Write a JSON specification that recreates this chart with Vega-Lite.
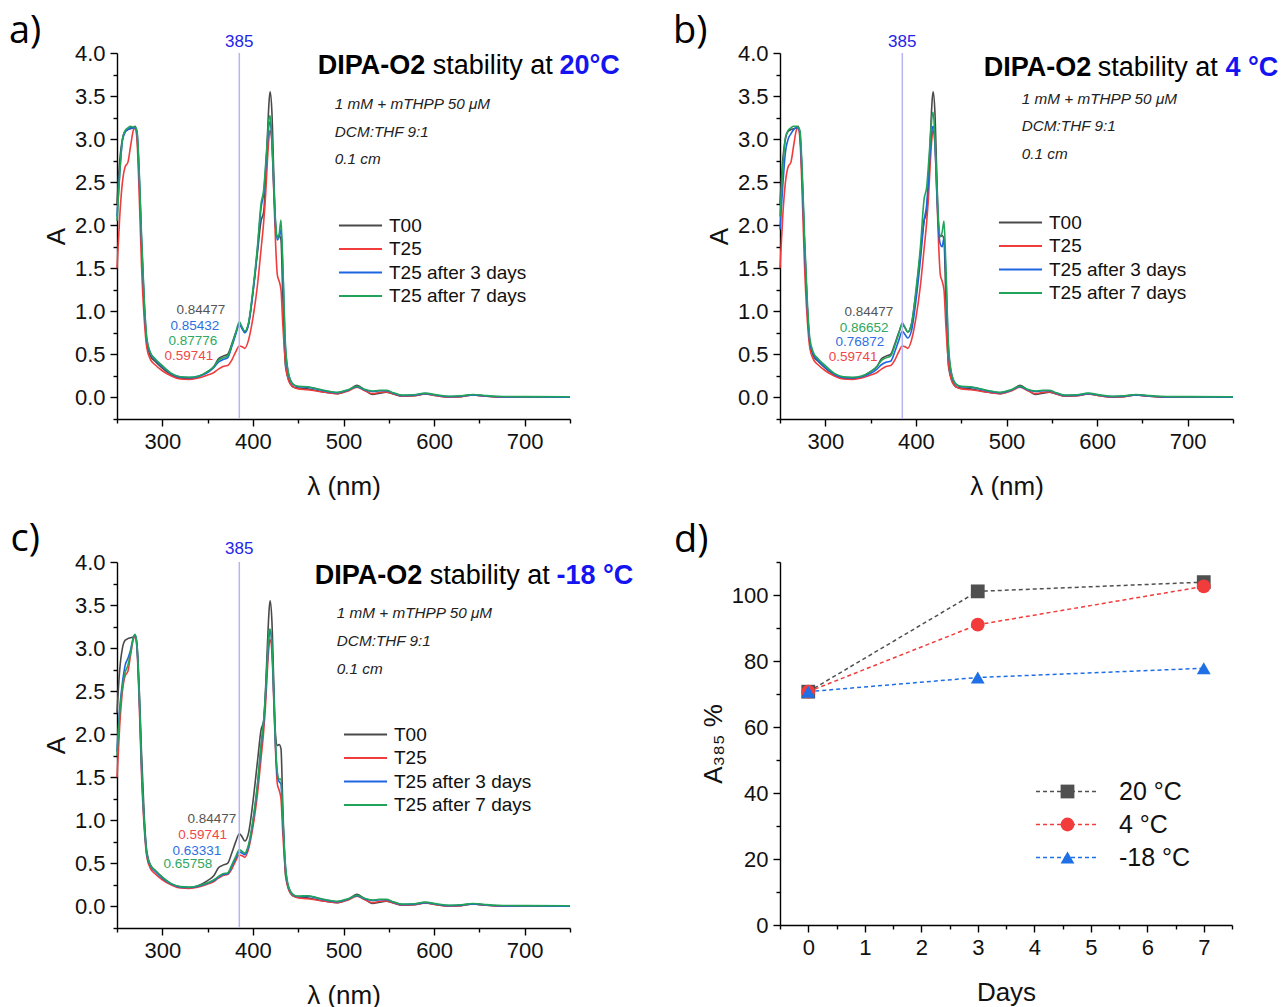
{
"$schema":"https://vega.github.io/schema/vega-lite/v6.json",
"background":"white",
"padding":{"left":8,"top":13,"right":0,"bottom":0},
"autosize":{"type":"pad"},
"bounds":"flush",
"columns":2,
"spacing":{"row":143,"column":210},
"resolve":{"scale":{"color":"independent","stroke":"independent","fill":"independent","shape":"independent"},"legend":{"color":"independent","stroke":"independent","fill":"independent","shape":"independent"}},
"config":{
 "font":"Liberation Sans",
 "view":{"stroke":null},
 "axis":{"grid":false,"domainColor":"#000","domainWidth":1.4,"tickColor":"#000","tickWidth":1.4,"labelColor":"#111","titleColor":"#111","labelFont":"Liberation Sans","titleFont":"Liberation Sans","labelFontSize":22,"titleFontSize":26,"titleFontWeight":"normal","labelOverlap":false,"labelFlush":false,"labelBound":false},
 "axisX":{"labelPadding":5,"titlePadding":21},
 "axisY":{"labelPadding":5,"titlePadding":5},
 "legend":{"labelFont":"Liberation Sans","labelColor":"#111","padding":0},
 "text":{"font":"Liberation Sans"}
},
"datasets":{
"common":[
{"s":"T00","nm":250,"A":2.25},{"s":"T00","nm":253,"A":2.75},{"s":"T00","nm":256,"A":3.0},{"s":"T00","nm":259,"A":3.09},{"s":"T00","nm":262,"A":3.11},{"s":"T00","nm":265,"A":3.12},{"s":"T00","nm":268,"A":3.13},{"s":"T00","nm":270,"A":3.15},{"s":"T00","nm":272,"A":3.05},{"s":"T00","nm":275,"A":2.4},{"s":"T00","nm":277,"A":1.8},{"s":"T00","nm":280,"A":1.06},{"s":"T00","nm":283,"A":0.63},{"s":"T00","nm":287,"A":0.48},{"s":"T00","nm":292,"A":0.42},{"s":"T00","nm":300,"A":0.34},{"s":"T00","nm":310,"A":0.26},{"s":"T00","nm":320,"A":0.225},{"s":"T00","nm":330,"A":0.217},{"s":"T00","nm":340,"A":0.244},{"s":"T00","nm":350,"A":0.3},{"s":"T00","nm":357,"A":0.36},{"s":"T00","nm":362,"A":0.45},{"s":"T00","nm":367,"A":0.48},{"s":"T00","nm":372,"A":0.5},{"s":"T00","nm":377,"A":0.63},{"s":"T00","nm":381,"A":0.75},{"s":"T00","nm":385,"A":0.845},{"s":"T00","nm":388,"A":0.81},{"s":"T00","nm":391,"A":0.76},{"s":"T00","nm":395,"A":0.845},{"s":"T00","nm":400,"A":1.21},{"s":"T00","nm":405,"A":1.68},{"s":"T00","nm":409,"A":2.05},{"s":"T00","nm":412,"A":2.16},{"s":"T00","nm":414,"A":2.53},{"s":"T00","nm":416,"A":3.03},{"s":"T00","nm":418,"A":3.46},{"s":"T00","nm":419,"A":3.55},{"s":"T00","nm":421,"A":3.31},{"s":"T00","nm":423,"A":2.61},{"s":"T00","nm":425,"A":1.99},{"s":"T00","nm":427,"A":1.87},{"s":"T00","nm":429,"A":1.88},{"s":"T00","nm":431,"A":1.83},{"s":"T00","nm":433,"A":1.17},{"s":"T00","nm":436,"A":0.36},{"s":"T00","nm":440,"A":0.19},{"s":"T00","nm":445,"A":0.12},{"s":"T00","nm":450,"A":0.11},{"s":"T00","nm":460,"A":0.1},{"s":"T00","nm":470,"A":0.08},{"s":"T00","nm":480,"A":0.06},{"s":"T00","nm":493,"A":0.045},{"s":"T00","nm":505,"A":0.08},{"s":"T00","nm":515,"A":0.14},{"s":"T00","nm":523,"A":0.09},{"s":"T00","nm":532,"A":0.035},{"s":"T00","nm":540,"A":0.05},{"s":"T00","nm":547,"A":0.06},{"s":"T00","nm":555,"A":0.04},{"s":"T00","nm":565,"A":0.015},{"s":"T00","nm":578,"A":0.02},{"s":"T00","nm":590,"A":0.04},{"s":"T00","nm":603,"A":0.02},{"s":"T00","nm":617,"A":0.005},{"s":"T00","nm":630,"A":0.01},{"s":"T00","nm":643,"A":0.03},{"s":"T00","nm":656,"A":0.015},{"s":"T00","nm":670,"A":0.005},{"s":"T00","nm":700,"A":0.003},{"s":"T00","nm":750,"A":0.002},
{"s":"T25","nm":250,"A":1.5},{"s":"T25","nm":253,"A":2.1},{"s":"T25","nm":256,"A":2.5},{"s":"T25","nm":259,"A":2.68},{"s":"T25","nm":262,"A":2.73},{"s":"T25","nm":265,"A":2.92},{"s":"T25","nm":268,"A":3.1},{"s":"T25","nm":270,"A":3.13},{"s":"T25","nm":272,"A":3.0},{"s":"T25","nm":275,"A":2.2},{"s":"T25","nm":277,"A":1.55},{"s":"T25","nm":280,"A":0.92},{"s":"T25","nm":283,"A":0.57},{"s":"T25","nm":287,"A":0.44},{"s":"T25","nm":292,"A":0.38},{"s":"T25","nm":300,"A":0.31},{"s":"T25","nm":310,"A":0.25},{"s":"T25","nm":320,"A":0.215},{"s":"T25","nm":330,"A":0.21},{"s":"T25","nm":340,"A":0.225},{"s":"T25","nm":350,"A":0.26},{"s":"T25","nm":357,"A":0.29},{"s":"T25","nm":362,"A":0.33},{"s":"T25","nm":367,"A":0.36},{"s":"T25","nm":372,"A":0.37},{"s":"T25","nm":377,"A":0.44},{"s":"T25","nm":381,"A":0.53},{"s":"T25","nm":385,"A":0.597},{"s":"T25","nm":388,"A":0.59},{"s":"T25","nm":391,"A":0.57},{"s":"T25","nm":395,"A":0.66},{"s":"T25","nm":400,"A":0.92},{"s":"T25","nm":405,"A":1.3},{"s":"T25","nm":409,"A":1.72},{"s":"T25","nm":412,"A":2.05},{"s":"T25","nm":414,"A":2.35},{"s":"T25","nm":416,"A":2.75},{"s":"T25","nm":418,"A":3.05},{"s":"T25","nm":419,"A":3.1},{"s":"T25","nm":421,"A":2.95},{"s":"T25","nm":423,"A":2.4},{"s":"T25","nm":425,"A":1.8},{"s":"T25","nm":427,"A":1.42},{"s":"T25","nm":429,"A":1.35},{"s":"T25","nm":431,"A":1.25},{"s":"T25","nm":433,"A":0.85},{"s":"T25","nm":436,"A":0.4},{"s":"T25","nm":440,"A":0.18},{"s":"T25","nm":445,"A":0.12},{"s":"T25","nm":450,"A":0.1},{"s":"T25","nm":460,"A":0.09},{"s":"T25","nm":470,"A":0.075},{"s":"T25","nm":480,"A":0.06},{"s":"T25","nm":493,"A":0.045},{"s":"T25","nm":505,"A":0.075},{"s":"T25","nm":515,"A":0.12},{"s":"T25","nm":523,"A":0.08},{"s":"T25","nm":532,"A":0.045},{"s":"T25","nm":540,"A":0.06},{"s":"T25","nm":547,"A":0.065},{"s":"T25","nm":555,"A":0.04},{"s":"T25","nm":565,"A":0.015},{"s":"T25","nm":578,"A":0.02},{"s":"T25","nm":590,"A":0.04},{"s":"T25","nm":603,"A":0.02},{"s":"T25","nm":617,"A":0.005},{"s":"T25","nm":630,"A":0.01},{"s":"T25","nm":643,"A":0.03},{"s":"T25","nm":656,"A":0.015},{"s":"T25","nm":670,"A":0.005},{"s":"T25","nm":700,"A":0.003},{"s":"T25","nm":750,"A":0.002}
],
"pa":[
{"s":"T25 after 3 days","nm":250,"A":2.1},{"s":"T25 after 3 days","nm":253,"A":2.6},{"s":"T25 after 3 days","nm":256,"A":2.98},{"s":"T25 after 3 days","nm":259,"A":3.08},{"s":"T25 after 3 days","nm":262,"A":3.11},{"s":"T25 after 3 days","nm":265,"A":3.13},{"s":"T25 after 3 days","nm":268,"A":3.13},{"s":"T25 after 3 days","nm":270,"A":3.13},{"s":"T25 after 3 days","nm":272,"A":3.08},{"s":"T25 after 3 days","nm":275,"A":2.45},{"s":"T25 after 3 days","nm":277,"A":1.85},{"s":"T25 after 3 days","nm":280,"A":1.12},{"s":"T25 after 3 days","nm":283,"A":0.66},{"s":"T25 after 3 days","nm":287,"A":0.51},{"s":"T25 after 3 days","nm":292,"A":0.44},{"s":"T25 after 3 days","nm":300,"A":0.36},{"s":"T25 after 3 days","nm":310,"A":0.275},{"s":"T25 after 3 days","nm":320,"A":0.235},{"s":"T25 after 3 days","nm":330,"A":0.23},{"s":"T25 after 3 days","nm":340,"A":0.245},{"s":"T25 after 3 days","nm":350,"A":0.29},{"s":"T25 after 3 days","nm":357,"A":0.35},{"s":"T25 after 3 days","nm":362,"A":0.41},{"s":"T25 after 3 days","nm":367,"A":0.44},{"s":"T25 after 3 days","nm":372,"A":0.46},{"s":"T25 after 3 days","nm":377,"A":0.6},{"s":"T25 after 3 days","nm":381,"A":0.73},{"s":"T25 after 3 days","nm":385,"A":0.854},{"s":"T25 after 3 days","nm":388,"A":0.8},{"s":"T25 after 3 days","nm":391,"A":0.75},{"s":"T25 after 3 days","nm":395,"A":0.84},{"s":"T25 after 3 days","nm":400,"A":1.22},{"s":"T25 after 3 days","nm":405,"A":1.72},{"s":"T25 after 3 days","nm":409,"A":2.2},{"s":"T25 after 3 days","nm":412,"A":2.38},{"s":"T25 after 3 days","nm":414,"A":2.65},{"s":"T25 after 3 days","nm":416,"A":2.95},{"s":"T25 after 3 days","nm":418,"A":3.18},{"s":"T25 after 3 days","nm":419,"A":3.2},{"s":"T25 after 3 days","nm":421,"A":2.98},{"s":"T25 after 3 days","nm":423,"A":2.45},{"s":"T25 after 3 days","nm":425,"A":2.0},{"s":"T25 after 3 days","nm":427,"A":1.83},{"s":"T25 after 3 days","nm":429,"A":1.87},{"s":"T25 after 3 days","nm":431,"A":1.95},{"s":"T25 after 3 days","nm":433,"A":1.5},{"s":"T25 after 3 days","nm":436,"A":0.55},{"s":"T25 after 3 days","nm":440,"A":0.24},{"s":"T25 after 3 days","nm":445,"A":0.145},{"s":"T25 after 3 days","nm":450,"A":0.125},{"s":"T25 after 3 days","nm":460,"A":0.12},{"s":"T25 after 3 days","nm":470,"A":0.1},{"s":"T25 after 3 days","nm":480,"A":0.075},{"s":"T25 after 3 days","nm":493,"A":0.055},{"s":"T25 after 3 days","nm":505,"A":0.085},{"s":"T25 after 3 days","nm":515,"A":0.125},{"s":"T25 after 3 days","nm":523,"A":0.09},{"s":"T25 after 3 days","nm":532,"A":0.07},{"s":"T25 after 3 days","nm":540,"A":0.078},{"s":"T25 after 3 days","nm":547,"A":0.078},{"s":"T25 after 3 days","nm":555,"A":0.05},{"s":"T25 after 3 days","nm":565,"A":0.022},{"s":"T25 after 3 days","nm":578,"A":0.027},{"s":"T25 after 3 days","nm":590,"A":0.045},{"s":"T25 after 3 days","nm":603,"A":0.025},{"s":"T25 after 3 days","nm":617,"A":0.01},{"s":"T25 after 3 days","nm":630,"A":0.015},{"s":"T25 after 3 days","nm":643,"A":0.03},{"s":"T25 after 3 days","nm":656,"A":0.018},{"s":"T25 after 3 days","nm":670,"A":0.009},{"s":"T25 after 3 days","nm":700,"A":0.005},{"s":"T25 after 3 days","nm":750,"A":0.004},
{"s":"T25 after 7 days","nm":250,"A":2.05},{"s":"T25 after 7 days","nm":253,"A":2.6},{"s":"T25 after 7 days","nm":256,"A":3.0},{"s":"T25 after 7 days","nm":259,"A":3.1},{"s":"T25 after 7 days","nm":262,"A":3.13},{"s":"T25 after 7 days","nm":265,"A":3.15},{"s":"T25 after 7 days","nm":268,"A":3.14},{"s":"T25 after 7 days","nm":270,"A":3.14},{"s":"T25 after 7 days","nm":272,"A":3.1},{"s":"T25 after 7 days","nm":275,"A":2.5},{"s":"T25 after 7 days","nm":277,"A":1.9},{"s":"T25 after 7 days","nm":280,"A":1.15},{"s":"T25 after 7 days","nm":283,"A":0.68},{"s":"T25 after 7 days","nm":287,"A":0.52},{"s":"T25 after 7 days","nm":292,"A":0.45},{"s":"T25 after 7 days","nm":300,"A":0.37},{"s":"T25 after 7 days","nm":310,"A":0.28},{"s":"T25 after 7 days","nm":320,"A":0.24},{"s":"T25 after 7 days","nm":330,"A":0.235},{"s":"T25 after 7 days","nm":340,"A":0.25},{"s":"T25 after 7 days","nm":350,"A":0.3},{"s":"T25 after 7 days","nm":357,"A":0.36},{"s":"T25 after 7 days","nm":362,"A":0.43},{"s":"T25 after 7 days","nm":367,"A":0.46},{"s":"T25 after 7 days","nm":372,"A":0.48},{"s":"T25 after 7 days","nm":377,"A":0.62},{"s":"T25 after 7 days","nm":381,"A":0.75},{"s":"T25 after 7 days","nm":385,"A":0.878},{"s":"T25 after 7 days","nm":388,"A":0.82},{"s":"T25 after 7 days","nm":391,"A":0.77},{"s":"T25 after 7 days","nm":395,"A":0.86},{"s":"T25 after 7 days","nm":400,"A":1.25},{"s":"T25 after 7 days","nm":405,"A":1.75},{"s":"T25 after 7 days","nm":409,"A":2.25},{"s":"T25 after 7 days","nm":412,"A":2.42},{"s":"T25 after 7 days","nm":414,"A":2.7},{"s":"T25 after 7 days","nm":416,"A":3.0},{"s":"T25 after 7 days","nm":418,"A":3.25},{"s":"T25 after 7 days","nm":419,"A":3.27},{"s":"T25 after 7 days","nm":421,"A":3.0},{"s":"T25 after 7 days","nm":423,"A":2.5},{"s":"T25 after 7 days","nm":425,"A":2.05},{"s":"T25 after 7 days","nm":427,"A":1.85},{"s":"T25 after 7 days","nm":429,"A":1.9},{"s":"T25 after 7 days","nm":431,"A":2.06},{"s":"T25 after 7 days","nm":433,"A":1.55},{"s":"T25 after 7 days","nm":436,"A":0.6},{"s":"T25 after 7 days","nm":440,"A":0.25},{"s":"T25 after 7 days","nm":445,"A":0.15},{"s":"T25 after 7 days","nm":450,"A":0.13},{"s":"T25 after 7 days","nm":460,"A":0.125},{"s":"T25 after 7 days","nm":470,"A":0.105},{"s":"T25 after 7 days","nm":480,"A":0.08},{"s":"T25 after 7 days","nm":493,"A":0.06},{"s":"T25 after 7 days","nm":505,"A":0.09},{"s":"T25 after 7 days","nm":515,"A":0.13},{"s":"T25 after 7 days","nm":523,"A":0.095},{"s":"T25 after 7 days","nm":532,"A":0.075},{"s":"T25 after 7 days","nm":540,"A":0.083},{"s":"T25 after 7 days","nm":547,"A":0.083},{"s":"T25 after 7 days","nm":555,"A":0.055},{"s":"T25 after 7 days","nm":565,"A":0.027},{"s":"T25 after 7 days","nm":578,"A":0.032},{"s":"T25 after 7 days","nm":590,"A":0.05},{"s":"T25 after 7 days","nm":603,"A":0.03},{"s":"T25 after 7 days","nm":617,"A":0.015},{"s":"T25 after 7 days","nm":630,"A":0.02},{"s":"T25 after 7 days","nm":643,"A":0.035},{"s":"T25 after 7 days","nm":656,"A":0.023},{"s":"T25 after 7 days","nm":670,"A":0.014},{"s":"T25 after 7 days","nm":700,"A":0.01},{"s":"T25 after 7 days","nm":750,"A":0.009}
],
"pb":[
{"s":"T25 after 3 days","nm":250,"A":1.95},{"s":"T25 after 3 days","nm":253,"A":2.45},{"s":"T25 after 3 days","nm":256,"A":2.85},{"s":"T25 after 3 days","nm":259,"A":3.0},{"s":"T25 after 3 days","nm":262,"A":3.06},{"s":"T25 after 3 days","nm":265,"A":3.11},{"s":"T25 after 3 days","nm":268,"A":3.13},{"s":"T25 after 3 days","nm":270,"A":3.13},{"s":"T25 after 3 days","nm":272,"A":3.06},{"s":"T25 after 3 days","nm":275,"A":2.4},{"s":"T25 after 3 days","nm":277,"A":1.8},{"s":"T25 after 3 days","nm":280,"A":1.08},{"s":"T25 after 3 days","nm":283,"A":0.64},{"s":"T25 after 3 days","nm":287,"A":0.5},{"s":"T25 after 3 days","nm":292,"A":0.43},{"s":"T25 after 3 days","nm":300,"A":0.35},{"s":"T25 after 3 days","nm":310,"A":0.27},{"s":"T25 after 3 days","nm":320,"A":0.232},{"s":"T25 after 3 days","nm":330,"A":0.228},{"s":"T25 after 3 days","nm":340,"A":0.24},{"s":"T25 after 3 days","nm":350,"A":0.28},{"s":"T25 after 3 days","nm":357,"A":0.33},{"s":"T25 after 3 days","nm":362,"A":0.38},{"s":"T25 after 3 days","nm":367,"A":0.41},{"s":"T25 after 3 days","nm":372,"A":0.42},{"s":"T25 after 3 days","nm":377,"A":0.54},{"s":"T25 after 3 days","nm":381,"A":0.66},{"s":"T25 after 3 days","nm":385,"A":0.769},{"s":"T25 after 3 days","nm":388,"A":0.73},{"s":"T25 after 3 days","nm":391,"A":0.69},{"s":"T25 after 3 days","nm":395,"A":0.77},{"s":"T25 after 3 days","nm":400,"A":1.12},{"s":"T25 after 3 days","nm":405,"A":1.6},{"s":"T25 after 3 days","nm":409,"A":2.05},{"s":"T25 after 3 days","nm":412,"A":2.25},{"s":"T25 after 3 days","nm":414,"A":2.55},{"s":"T25 after 3 days","nm":416,"A":2.9},{"s":"T25 after 3 days","nm":418,"A":3.12},{"s":"T25 after 3 days","nm":419,"A":3.15},{"s":"T25 after 3 days","nm":421,"A":2.95},{"s":"T25 after 3 days","nm":423,"A":2.4},{"s":"T25 after 3 days","nm":425,"A":1.95},{"s":"T25 after 3 days","nm":427,"A":1.78},{"s":"T25 after 3 days","nm":429,"A":1.75},{"s":"T25 after 3 days","nm":431,"A":1.85},{"s":"T25 after 3 days","nm":433,"A":1.45},{"s":"T25 after 3 days","nm":436,"A":0.55},{"s":"T25 after 3 days","nm":440,"A":0.24},{"s":"T25 after 3 days","nm":445,"A":0.145},{"s":"T25 after 3 days","nm":450,"A":0.125},{"s":"T25 after 3 days","nm":460,"A":0.12},{"s":"T25 after 3 days","nm":470,"A":0.1},{"s":"T25 after 3 days","nm":480,"A":0.075},{"s":"T25 after 3 days","nm":493,"A":0.055},{"s":"T25 after 3 days","nm":505,"A":0.085},{"s":"T25 after 3 days","nm":515,"A":0.125},{"s":"T25 after 3 days","nm":523,"A":0.09},{"s":"T25 after 3 days","nm":532,"A":0.07},{"s":"T25 after 3 days","nm":540,"A":0.078},{"s":"T25 after 3 days","nm":547,"A":0.078},{"s":"T25 after 3 days","nm":555,"A":0.05},{"s":"T25 after 3 days","nm":565,"A":0.022},{"s":"T25 after 3 days","nm":578,"A":0.027},{"s":"T25 after 3 days","nm":590,"A":0.045},{"s":"T25 after 3 days","nm":603,"A":0.025},{"s":"T25 after 3 days","nm":617,"A":0.01},{"s":"T25 after 3 days","nm":630,"A":0.015},{"s":"T25 after 3 days","nm":643,"A":0.03},{"s":"T25 after 3 days","nm":656,"A":0.018},{"s":"T25 after 3 days","nm":670,"A":0.009},{"s":"T25 after 3 days","nm":700,"A":0.005},{"s":"T25 after 3 days","nm":750,"A":0.004},
{"s":"T25 after 7 days","nm":250,"A":2.1},{"s":"T25 after 7 days","nm":253,"A":2.65},{"s":"T25 after 7 days","nm":256,"A":3.02},{"s":"T25 after 7 days","nm":259,"A":3.1},{"s":"T25 after 7 days","nm":262,"A":3.13},{"s":"T25 after 7 days","nm":265,"A":3.15},{"s":"T25 after 7 days","nm":268,"A":3.15},{"s":"T25 after 7 days","nm":270,"A":3.14},{"s":"T25 after 7 days","nm":272,"A":3.1},{"s":"T25 after 7 days","nm":275,"A":2.5},{"s":"T25 after 7 days","nm":277,"A":1.9},{"s":"T25 after 7 days","nm":280,"A":1.15},{"s":"T25 after 7 days","nm":283,"A":0.68},{"s":"T25 after 7 days","nm":287,"A":0.52},{"s":"T25 after 7 days","nm":292,"A":0.45},{"s":"T25 after 7 days","nm":300,"A":0.37},{"s":"T25 after 7 days","nm":310,"A":0.28},{"s":"T25 after 7 days","nm":320,"A":0.24},{"s":"T25 after 7 days","nm":330,"A":0.235},{"s":"T25 after 7 days","nm":340,"A":0.25},{"s":"T25 after 7 days","nm":350,"A":0.3},{"s":"T25 after 7 days","nm":357,"A":0.36},{"s":"T25 after 7 days","nm":362,"A":0.43},{"s":"T25 after 7 days","nm":367,"A":0.46},{"s":"T25 after 7 days","nm":372,"A":0.48},{"s":"T25 after 7 days","nm":377,"A":0.61},{"s":"T25 after 7 days","nm":381,"A":0.74},{"s":"T25 after 7 days","nm":385,"A":0.867},{"s":"T25 after 7 days","nm":388,"A":0.81},{"s":"T25 after 7 days","nm":391,"A":0.76},{"s":"T25 after 7 days","nm":395,"A":0.85},{"s":"T25 after 7 days","nm":400,"A":1.24},{"s":"T25 after 7 days","nm":405,"A":1.75},{"s":"T25 after 7 days","nm":409,"A":2.3},{"s":"T25 after 7 days","nm":412,"A":2.45},{"s":"T25 after 7 days","nm":414,"A":2.72},{"s":"T25 after 7 days","nm":416,"A":3.02},{"s":"T25 after 7 days","nm":418,"A":3.28},{"s":"T25 after 7 days","nm":419,"A":3.31},{"s":"T25 after 7 days","nm":421,"A":3.02},{"s":"T25 after 7 days","nm":423,"A":2.5},{"s":"T25 after 7 days","nm":425,"A":2.05},{"s":"T25 after 7 days","nm":427,"A":1.87},{"s":"T25 after 7 days","nm":429,"A":1.92},{"s":"T25 after 7 days","nm":431,"A":2.05},{"s":"T25 after 7 days","nm":433,"A":1.55},{"s":"T25 after 7 days","nm":436,"A":0.6},{"s":"T25 after 7 days","nm":440,"A":0.25},{"s":"T25 after 7 days","nm":445,"A":0.15},{"s":"T25 after 7 days","nm":450,"A":0.13},{"s":"T25 after 7 days","nm":460,"A":0.125},{"s":"T25 after 7 days","nm":470,"A":0.105},{"s":"T25 after 7 days","nm":480,"A":0.08},{"s":"T25 after 7 days","nm":493,"A":0.06},{"s":"T25 after 7 days","nm":505,"A":0.09},{"s":"T25 after 7 days","nm":515,"A":0.13},{"s":"T25 after 7 days","nm":523,"A":0.095},{"s":"T25 after 7 days","nm":532,"A":0.075},{"s":"T25 after 7 days","nm":540,"A":0.083},{"s":"T25 after 7 days","nm":547,"A":0.083},{"s":"T25 after 7 days","nm":555,"A":0.055},{"s":"T25 after 7 days","nm":565,"A":0.027},{"s":"T25 after 7 days","nm":578,"A":0.032},{"s":"T25 after 7 days","nm":590,"A":0.05},{"s":"T25 after 7 days","nm":603,"A":0.03},{"s":"T25 after 7 days","nm":617,"A":0.015},{"s":"T25 after 7 days","nm":630,"A":0.02},{"s":"T25 after 7 days","nm":643,"A":0.035},{"s":"T25 after 7 days","nm":656,"A":0.023},{"s":"T25 after 7 days","nm":670,"A":0.014},{"s":"T25 after 7 days","nm":700,"A":0.01},{"s":"T25 after 7 days","nm":750,"A":0.009}
],
"pc":[
{"s":"T25 after 3 days","nm":250,"A":1.8},{"s":"T25 after 3 days","nm":253,"A":2.3},{"s":"T25 after 3 days","nm":256,"A":2.6},{"s":"T25 after 3 days","nm":259,"A":2.8},{"s":"T25 after 3 days","nm":262,"A":2.88},{"s":"T25 after 3 days","nm":265,"A":2.98},{"s":"T25 after 3 days","nm":268,"A":3.12},{"s":"T25 after 3 days","nm":270,"A":3.15},{"s":"T25 after 3 days","nm":272,"A":3.02},{"s":"T25 after 3 days","nm":275,"A":2.3},{"s":"T25 after 3 days","nm":277,"A":1.65},{"s":"T25 after 3 days","nm":280,"A":0.98},{"s":"T25 after 3 days","nm":283,"A":0.6},{"s":"T25 after 3 days","nm":287,"A":0.47},{"s":"T25 after 3 days","nm":292,"A":0.41},{"s":"T25 after 3 days","nm":300,"A":0.33},{"s":"T25 after 3 days","nm":310,"A":0.26},{"s":"T25 after 3 days","nm":320,"A":0.225},{"s":"T25 after 3 days","nm":330,"A":0.22},{"s":"T25 after 3 days","nm":340,"A":0.235},{"s":"T25 after 3 days","nm":350,"A":0.27},{"s":"T25 after 3 days","nm":357,"A":0.3},{"s":"T25 after 3 days","nm":362,"A":0.34},{"s":"T25 after 3 days","nm":367,"A":0.37},{"s":"T25 after 3 days","nm":372,"A":0.38},{"s":"T25 after 3 days","nm":377,"A":0.47},{"s":"T25 after 3 days","nm":381,"A":0.56},{"s":"T25 after 3 days","nm":385,"A":0.633},{"s":"T25 after 3 days","nm":388,"A":0.62},{"s":"T25 after 3 days","nm":391,"A":0.6},{"s":"T25 after 3 days","nm":395,"A":0.69},{"s":"T25 after 3 days","nm":400,"A":0.98},{"s":"T25 after 3 days","nm":405,"A":1.4},{"s":"T25 after 3 days","nm":409,"A":1.85},{"s":"T25 after 3 days","nm":412,"A":2.15},{"s":"T25 after 3 days","nm":414,"A":2.45},{"s":"T25 after 3 days","nm":416,"A":2.85},{"s":"T25 after 3 days","nm":418,"A":3.15},{"s":"T25 after 3 days","nm":419,"A":3.2},{"s":"T25 after 3 days","nm":421,"A":3.02},{"s":"T25 after 3 days","nm":423,"A":2.45},{"s":"T25 after 3 days","nm":425,"A":1.85},{"s":"T25 after 3 days","nm":427,"A":1.52},{"s":"T25 after 3 days","nm":429,"A":1.45},{"s":"T25 after 3 days","nm":431,"A":1.42},{"s":"T25 after 3 days","nm":433,"A":1.0},{"s":"T25 after 3 days","nm":436,"A":0.45},{"s":"T25 after 3 days","nm":440,"A":0.2},{"s":"T25 after 3 days","nm":445,"A":0.13},{"s":"T25 after 3 days","nm":450,"A":0.115},{"s":"T25 after 3 days","nm":460,"A":0.12},{"s":"T25 after 3 days","nm":470,"A":0.1},{"s":"T25 after 3 days","nm":480,"A":0.075},{"s":"T25 after 3 days","nm":493,"A":0.055},{"s":"T25 after 3 days","nm":505,"A":0.085},{"s":"T25 after 3 days","nm":515,"A":0.125},{"s":"T25 after 3 days","nm":523,"A":0.09},{"s":"T25 after 3 days","nm":532,"A":0.07},{"s":"T25 after 3 days","nm":540,"A":0.078},{"s":"T25 after 3 days","nm":547,"A":0.078},{"s":"T25 after 3 days","nm":555,"A":0.05},{"s":"T25 after 3 days","nm":565,"A":0.022},{"s":"T25 after 3 days","nm":578,"A":0.027},{"s":"T25 after 3 days","nm":590,"A":0.045},{"s":"T25 after 3 days","nm":603,"A":0.025},{"s":"T25 after 3 days","nm":617,"A":0.01},{"s":"T25 after 3 days","nm":630,"A":0.015},{"s":"T25 after 3 days","nm":643,"A":0.03},{"s":"T25 after 3 days","nm":656,"A":0.018},{"s":"T25 after 3 days","nm":670,"A":0.009},{"s":"T25 after 3 days","nm":700,"A":0.005},{"s":"T25 after 3 days","nm":750,"A":0.004},
{"s":"T25 after 7 days","nm":250,"A":1.75},{"s":"T25 after 7 days","nm":253,"A":2.25},{"s":"T25 after 7 days","nm":256,"A":2.55},{"s":"T25 after 7 days","nm":259,"A":2.72},{"s":"T25 after 7 days","nm":262,"A":2.8},{"s":"T25 after 7 days","nm":265,"A":2.95},{"s":"T25 after 7 days","nm":268,"A":3.12},{"s":"T25 after 7 days","nm":270,"A":3.16},{"s":"T25 after 7 days","nm":272,"A":3.04},{"s":"T25 after 7 days","nm":275,"A":2.35},{"s":"T25 after 7 days","nm":277,"A":1.68},{"s":"T25 after 7 days","nm":280,"A":1.0},{"s":"T25 after 7 days","nm":283,"A":0.61},{"s":"T25 after 7 days","nm":287,"A":0.48},{"s":"T25 after 7 days","nm":292,"A":0.42},{"s":"T25 after 7 days","nm":300,"A":0.34},{"s":"T25 after 7 days","nm":310,"A":0.265},{"s":"T25 after 7 days","nm":320,"A":0.23},{"s":"T25 after 7 days","nm":330,"A":0.225},{"s":"T25 after 7 days","nm":340,"A":0.24},{"s":"T25 after 7 days","nm":350,"A":0.275},{"s":"T25 after 7 days","nm":357,"A":0.31},{"s":"T25 after 7 days","nm":362,"A":0.35},{"s":"T25 after 7 days","nm":367,"A":0.38},{"s":"T25 after 7 days","nm":372,"A":0.39},{"s":"T25 after 7 days","nm":377,"A":0.49},{"s":"T25 after 7 days","nm":381,"A":0.58},{"s":"T25 after 7 days","nm":385,"A":0.658},{"s":"T25 after 7 days","nm":388,"A":0.64},{"s":"T25 after 7 days","nm":391,"A":0.62},{"s":"T25 after 7 days","nm":395,"A":0.71},{"s":"T25 after 7 days","nm":400,"A":1.0},{"s":"T25 after 7 days","nm":405,"A":1.42},{"s":"T25 after 7 days","nm":409,"A":1.88},{"s":"T25 after 7 days","nm":412,"A":2.18},{"s":"T25 after 7 days","nm":414,"A":2.5},{"s":"T25 after 7 days","nm":416,"A":2.9},{"s":"T25 after 7 days","nm":418,"A":3.2},{"s":"T25 after 7 days","nm":419,"A":3.22},{"s":"T25 after 7 days","nm":421,"A":3.05},{"s":"T25 after 7 days","nm":423,"A":2.5},{"s":"T25 after 7 days","nm":425,"A":1.9},{"s":"T25 after 7 days","nm":427,"A":1.56},{"s":"T25 after 7 days","nm":429,"A":1.48},{"s":"T25 after 7 days","nm":431,"A":1.48},{"s":"T25 after 7 days","nm":433,"A":1.05},{"s":"T25 after 7 days","nm":436,"A":0.47},{"s":"T25 after 7 days","nm":440,"A":0.21},{"s":"T25 after 7 days","nm":445,"A":0.135},{"s":"T25 after 7 days","nm":450,"A":0.12},{"s":"T25 after 7 days","nm":460,"A":0.125},{"s":"T25 after 7 days","nm":470,"A":0.105},{"s":"T25 after 7 days","nm":480,"A":0.08},{"s":"T25 after 7 days","nm":493,"A":0.06},{"s":"T25 after 7 days","nm":505,"A":0.09},{"s":"T25 after 7 days","nm":515,"A":0.13},{"s":"T25 after 7 days","nm":523,"A":0.095},{"s":"T25 after 7 days","nm":532,"A":0.075},{"s":"T25 after 7 days","nm":540,"A":0.083},{"s":"T25 after 7 days","nm":547,"A":0.083},{"s":"T25 after 7 days","nm":555,"A":0.055},{"s":"T25 after 7 days","nm":565,"A":0.027},{"s":"T25 after 7 days","nm":578,"A":0.032},{"s":"T25 after 7 days","nm":590,"A":0.05},{"s":"T25 after 7 days","nm":603,"A":0.03},{"s":"T25 after 7 days","nm":617,"A":0.015},{"s":"T25 after 7 days","nm":630,"A":0.02},{"s":"T25 after 7 days","nm":643,"A":0.035},{"s":"T25 after 7 days","nm":656,"A":0.023},{"s":"T25 after 7 days","nm":670,"A":0.014},{"s":"T25 after 7 days","nm":700,"A":0.01},{"s":"T25 after 7 days","nm":750,"A":0.009}
],
"pd":[
{"T":"20 °C","k":"20","day":0,"v":70.7},{"T":"20 °C","k":"20","day":3,"v":101.1},{"T":"20 °C","k":"20","day":7,"v":103.9},
{"T":"4 °C","k":"4","day":0,"v":70.7},{"T":"4 °C","k":"4","day":3,"v":91.0},{"T":"4 °C","k":"4","day":7,"v":102.6},
{"T":"-18 °C","k":"-18","day":0,"v":70.7},{"T":"-18 °C","k":"-18","day":3,"v":75.0},{"T":"-18 °C","k":"-18","day":7,"v":77.8}
]
},
"concat":[
{
 "width":453,"height":366,
 "layer":[
  {"data":{"name":"common"},"mark":{"type":"line","strokeWidth":1.6,"interpolate":"monotone"},"encoding":{
   "x":{"field":"nm","type":"quantitative","scale":{"domain":[250,750],"nice":false,"zero":false},"axis":{"title":"λ (nm)","values":[250,300,350,400,450,500,550,600,650,700,750],"labelExpr":"datum.value % 100 === 0 ? datum.label : ''","tickSize":{"condition":{"test":"datum.value % 100 === 0","value":7},"value":4}}},
   "y":{"field":"A","type":"quantitative","scale":{"domain":[-0.25,4],"nice":false,"zero":false},"axis":{"title":"A","values":[-0.25,0,0.25,0.5,0.75,1,1.25,1.5,1.75,2,2.25,2.5,2.75,3,3.25,3.5,3.75,4],"labelExpr":"abs(datum.value*2-round(datum.value*2))<0.001 ? format(datum.value,'.1f') : ''","tickSize":{"condition":{"test":"abs(datum.value*2-round(datum.value*2))<0.001","value":7},"value":4}}},
   "color":{"field":"s","type":"nominal","scale":{"domain":["T00","T25","T25 after 3 days","T25 after 7 days"],"range":["#4a4a4a","#f03c3c","#1f64e0","#22a35a"]},"legend":{"orient":"none","legendX":234,"legendY":163,"title":null,"symbolType":"M-4,0H4","symbolSize":116,"symbolStrokeWidth":2,"labelFontSize":19,"rowPadding":3.5,"labelOffset":19}}}},
  {"data":{"name":"pa"},"mark":{"type":"line","strokeWidth":1.6,"interpolate":"monotone"},"encoding":{
   "x":{"field":"nm","type":"quantitative","axis":{"title":"λ (nm)","values":[250,300,350,400,450,500,550,600,650,700,750],"labelExpr":"datum.value % 100 === 0 ? datum.label : ''","tickSize":{"condition":{"test":"datum.value % 100 === 0","value":7},"value":4}}},
   "y":{"field":"A","type":"quantitative","axis":{"title":"A","values":[-0.25,0,0.25,0.5,0.75,1,1.25,1.5,1.75,2,2.25,2.5,2.75,3,3.25,3.5,3.75,4],"labelExpr":"abs(datum.value*2-round(datum.value*2))<0.001 ? format(datum.value,'.1f') : ''","tickSize":{"condition":{"test":"abs(datum.value*2-round(datum.value*2))<0.001","value":7},"value":4}}},
   "color":{"field":"s","type":"nominal","scale":{"domain":["T00","T25","T25 after 3 days","T25 after 7 days"],"range":["#4a4a4a","#f03c3c","#1f64e0","#22a35a"]},"legend":{"orient":"none","legendX":234,"legendY":163,"title":null,"symbolType":"M-4,0H4","symbolSize":116,"symbolStrokeWidth":2,"labelFontSize":19,"rowPadding":3.5,"labelOffset":19}}}},
  {"data":{"values":[{}]},"mark":{"type":"rule","color":"#b4b4f4","strokeWidth":1.5},"encoding":{"x":{"datum":385,"axis":{"title":"λ (nm)","values":[250,300,350,400,450,500,550,600,650,700,750],"labelExpr":"datum.value % 100 === 0 ? datum.label : ''","tickSize":{"condition":{"test":"datum.value % 100 === 0","value":7},"value":4}}}}},
  {"data":{"values":[{}]},"mark":{"type":"text","text":"385","fontSize":17,"color":"#2424e8","baseline":"middle"},"encoding":{"x":{"datum":385,"axis":{"title":"λ (nm)","values":[250,300,350,400,450,500,550,600,650,700,750],"labelExpr":"datum.value % 100 === 0 ? datum.label : ''","tickSize":{"condition":{"test":"datum.value % 100 === 0","value":7},"value":4}}},"y":{"datum":4.13,"axis":{"title":"A","values":[-0.25,0,0.25,0.5,0.75,1,1.25,1.5,1.75,2,2.25,2.5,2.75,3,3.25,3.5,3.75,4],"labelExpr":"abs(datum.value*2-round(datum.value*2))<0.001 ? format(datum.value,'.1f') : ''","tickSize":{"condition":{"test":"abs(datum.value*2-round(datum.value*2))<0.001","value":7},"value":4}}}}},
  {"data":{"values":[{}]},"mark":{"type":"text","text":"a)","fontSize":38,"font":"Open Sans","color":"#000","baseline":"middle"},"encoding":{"x":{"datum":148.6,"axis":{"title":"λ (nm)","values":[250,300,350,400,450,500,550,600,650,700,750],"labelExpr":"datum.value % 100 === 0 ? datum.label : ''","tickSize":{"condition":{"test":"datum.value % 100 === 0","value":7},"value":4}}},"y":{"datum":4.24,"axis":{"title":"A","values":[-0.25,0,0.25,0.5,0.75,1,1.25,1.5,1.75,2,2.25,2.5,2.75,3,3.25,3.5,3.75,4],"labelExpr":"abs(datum.value*2-round(datum.value*2))<0.001 ? format(datum.value,'.1f') : ''","tickSize":{"condition":{"test":"abs(datum.value*2-round(datum.value*2))<0.001","value":7},"value":4}}}}},
  {"data":{"values":[{}]},"mark":{"type":"text","text":"DIPA-O2","fontSize":27,"fontWeight":"bold","color":"#000","align":"left","baseline":"middle"},"encoding":{"x":{"datum":471.6,"axis":{"title":"λ (nm)","values":[250,300,350,400,450,500,550,600,650,700,750],"labelExpr":"datum.value % 100 === 0 ? datum.label : ''","tickSize":{"condition":{"test":"datum.value % 100 === 0","value":7},"value":4}}},"y":{"datum":3.847,"axis":{"title":"A","values":[-0.25,0,0.25,0.5,0.75,1,1.25,1.5,1.75,2,2.25,2.5,2.75,3,3.25,3.5,3.75,4],"labelExpr":"abs(datum.value*2-round(datum.value*2))<0.001 ? format(datum.value,'.1f') : ''","tickSize":{"condition":{"test":"abs(datum.value*2-round(datum.value*2))<0.001","value":7},"value":4}}}}},
  {"data":{"values":[{}]},"mark":{"type":"text","text":"stability at","fontSize":27,"color":"#000","align":"left","baseline":"middle"},"encoding":{"x":{"datum":598.4,"axis":{"title":"λ (nm)","values":[250,300,350,400,450,500,550,600,650,700,750],"labelExpr":"datum.value % 100 === 0 ? datum.label : ''","tickSize":{"condition":{"test":"datum.value % 100 === 0","value":7},"value":4}}},"y":{"datum":3.847,"axis":{"title":"A","values":[-0.25,0,0.25,0.5,0.75,1,1.25,1.5,1.75,2,2.25,2.5,2.75,3,3.25,3.5,3.75,4],"labelExpr":"abs(datum.value*2-round(datum.value*2))<0.001 ? format(datum.value,'.1f') : ''","tickSize":{"condition":{"test":"abs(datum.value*2-round(datum.value*2))<0.001","value":7},"value":4}}}}},
  {"data":{"values":[{}]},"mark":{"type":"text","text":"20°C","fontSize":27,"fontWeight":"bold","color":"#1414f0","align":"left","baseline":"middle"},"encoding":{"x":{"datum":738.4,"axis":{"title":"λ (nm)","values":[250,300,350,400,450,500,550,600,650,700,750],"labelExpr":"datum.value % 100 === 0 ? datum.label : ''","tickSize":{"condition":{"test":"datum.value % 100 === 0","value":7},"value":4}}},"y":{"datum":3.847,"axis":{"title":"A","values":[-0.25,0,0.25,0.5,0.75,1,1.25,1.5,1.75,2,2.25,2.5,2.75,3,3.25,3.5,3.75,4],"labelExpr":"abs(datum.value*2-round(datum.value*2))<0.001 ? format(datum.value,'.1f') : ''","tickSize":{"condition":{"test":"abs(datum.value*2-round(datum.value*2))<0.001","value":7},"value":4}}}}},
  {"data":{"values":[{}]},"mark":{"type":"text","text":"1 mM + mTHPP 50 μM","fontSize":15.3,"fontStyle":"italic","color":"#222","align":"left","baseline":"middle"},"encoding":{"x":{"datum":490.4,"axis":{"title":"λ (nm)","values":[250,300,350,400,450,500,550,600,650,700,750],"labelExpr":"datum.value % 100 === 0 ? datum.label : ''","tickSize":{"condition":{"test":"datum.value % 100 === 0","value":7},"value":4}}},"y":{"datum":3.41,"axis":{"title":"A","values":[-0.25,0,0.25,0.5,0.75,1,1.25,1.5,1.75,2,2.25,2.5,2.75,3,3.25,3.5,3.75,4],"labelExpr":"abs(datum.value*2-round(datum.value*2))<0.001 ? format(datum.value,'.1f') : ''","tickSize":{"condition":{"test":"abs(datum.value*2-round(datum.value*2))<0.001","value":7},"value":4}}}}},
  {"data":{"values":[{}]},"mark":{"type":"text","text":"DCM:THF 9:1","fontSize":15.3,"fontStyle":"italic","color":"#222","align":"left","baseline":"middle"},"encoding":{"x":{"datum":490.4,"axis":{"title":"λ (nm)","values":[250,300,350,400,450,500,550,600,650,700,750],"labelExpr":"datum.value % 100 === 0 ? datum.label : ''","tickSize":{"condition":{"test":"datum.value % 100 === 0","value":7},"value":4}}},"y":{"datum":3.08,"axis":{"title":"A","values":[-0.25,0,0.25,0.5,0.75,1,1.25,1.5,1.75,2,2.25,2.5,2.75,3,3.25,3.5,3.75,4],"labelExpr":"abs(datum.value*2-round(datum.value*2))<0.001 ? format(datum.value,'.1f') : ''","tickSize":{"condition":{"test":"abs(datum.value*2-round(datum.value*2))<0.001","value":7},"value":4}}}}},
  {"data":{"values":[{}]},"mark":{"type":"text","text":"0.1 cm","fontSize":15.3,"fontStyle":"italic","color":"#222","align":"left","baseline":"middle"},"encoding":{"x":{"datum":490.4,"axis":{"title":"λ (nm)","values":[250,300,350,400,450,500,550,600,650,700,750],"labelExpr":"datum.value % 100 === 0 ? datum.label : ''","tickSize":{"condition":{"test":"datum.value % 100 === 0","value":7},"value":4}}},"y":{"datum":2.77,"axis":{"title":"A","values":[-0.25,0,0.25,0.5,0.75,1,1.25,1.5,1.75,2,2.25,2.5,2.75,3,3.25,3.5,3.75,4],"labelExpr":"abs(datum.value*2-round(datum.value*2))<0.001 ? format(datum.value,'.1f') : ''","tickSize":{"condition":{"test":"abs(datum.value*2-round(datum.value*2))<0.001","value":7},"value":4}}}}},
  {"data":{"values":[{}]},"mark":{"type":"text","text":"0.84477","fontSize":13.5,"color":"#555555","baseline":"middle"},"encoding":{"x":{"datum":342.6,"axis":{"title":"λ (nm)","values":[250,300,350,400,450,500,550,600,650,700,750],"labelExpr":"datum.value % 100 === 0 ? datum.label : ''","tickSize":{"condition":{"test":"datum.value % 100 === 0","value":7},"value":4}}},"y":{"datum":1.01,"axis":{"title":"A","values":[-0.25,0,0.25,0.5,0.75,1,1.25,1.5,1.75,2,2.25,2.5,2.75,3,3.25,3.5,3.75,4],"labelExpr":"abs(datum.value*2-round(datum.value*2))<0.001 ? format(datum.value,'.1f') : ''","tickSize":{"condition":{"test":"abs(datum.value*2-round(datum.value*2))<0.001","value":7},"value":4}}}}},
  {"data":{"values":[{}]},"mark":{"type":"text","text":"0.85432","fontSize":13.5,"color":"#2f6fe0","baseline":"middle"},"encoding":{"x":{"datum":336.0,"axis":{"title":"λ (nm)","values":[250,300,350,400,450,500,550,600,650,700,750],"labelExpr":"datum.value % 100 === 0 ? datum.label : ''","tickSize":{"condition":{"test":"datum.value % 100 === 0","value":7},"value":4}}},"y":{"datum":0.826,"axis":{"title":"A","values":[-0.25,0,0.25,0.5,0.75,1,1.25,1.5,1.75,2,2.25,2.5,2.75,3,3.25,3.5,3.75,4],"labelExpr":"abs(datum.value*2-round(datum.value*2))<0.001 ? format(datum.value,'.1f') : ''","tickSize":{"condition":{"test":"abs(datum.value*2-round(datum.value*2))<0.001","value":7},"value":4}}}}},
  {"data":{"values":[{}]},"mark":{"type":"text","text":"0.87776","fontSize":13.5,"color":"#2ea860","baseline":"middle"},"encoding":{"x":{"datum":333.8,"axis":{"title":"λ (nm)","values":[250,300,350,400,450,500,550,600,650,700,750],"labelExpr":"datum.value % 100 === 0 ? datum.label : ''","tickSize":{"condition":{"test":"datum.value % 100 === 0","value":7},"value":4}}},"y":{"datum":0.651,"axis":{"title":"A","values":[-0.25,0,0.25,0.5,0.75,1,1.25,1.5,1.75,2,2.25,2.5,2.75,3,3.25,3.5,3.75,4],"labelExpr":"abs(datum.value*2-round(datum.value*2))<0.001 ? format(datum.value,'.1f') : ''","tickSize":{"condition":{"test":"abs(datum.value*2-round(datum.value*2))<0.001","value":7},"value":4}}}}},
  {"data":{"values":[{}]},"mark":{"type":"text","text":"0.59741","fontSize":13.5,"color":"#f04848","baseline":"middle"},"encoding":{"x":{"datum":329.4,"axis":{"title":"λ (nm)","values":[250,300,350,400,450,500,550,600,650,700,750],"labelExpr":"datum.value % 100 === 0 ? datum.label : ''","tickSize":{"condition":{"test":"datum.value % 100 === 0","value":7},"value":4}}},"y":{"datum":0.477,"axis":{"title":"A","values":[-0.25,0,0.25,0.5,0.75,1,1.25,1.5,1.75,2,2.25,2.5,2.75,3,3.25,3.5,3.75,4],"labelExpr":"abs(datum.value*2-round(datum.value*2))<0.001 ? format(datum.value,'.1f') : ''","tickSize":{"condition":{"test":"abs(datum.value*2-round(datum.value*2))<0.001","value":7},"value":4}}}}}
 ]
},
{
 "width":453,"height":366,
 "layer":[
  {"data":{"name":"common"},"mark":{"type":"line","strokeWidth":1.6,"interpolate":"monotone"},"encoding":{
   "x":{"field":"nm","type":"quantitative","scale":{"domain":[250,750],"nice":false,"zero":false},"axis":{"title":"λ (nm)","values":[250,300,350,400,450,500,550,600,650,700,750],"labelExpr":"datum.value % 100 === 0 ? datum.label : ''","tickSize":{"condition":{"test":"datum.value % 100 === 0","value":7},"value":4}}},
   "y":{"field":"A","type":"quantitative","scale":{"domain":[-0.25,4],"nice":false,"zero":false},"axis":{"title":"A","values":[-0.25,0,0.25,0.5,0.75,1,1.25,1.5,1.75,2,2.25,2.5,2.75,3,3.25,3.5,3.75,4],"labelExpr":"abs(datum.value*2-round(datum.value*2))<0.001 ? format(datum.value,'.1f') : ''","tickSize":{"condition":{"test":"abs(datum.value*2-round(datum.value*2))<0.001","value":7},"value":4}}},
   "color":{"field":"s","type":"nominal","scale":{"domain":["T00","T25","T25 after 3 days","T25 after 7 days"],"range":["#4a4a4a","#f03c3c","#1f64e0","#22a35a"]},"legend":{"orient":"none","legendX":231,"legendY":160,"title":null,"symbolType":"M-4,0H4","symbolSize":116,"symbolStrokeWidth":2,"labelFontSize":19,"rowPadding":3.5,"labelOffset":19}}}},
  {"data":{"name":"pb"},"mark":{"type":"line","strokeWidth":1.6,"interpolate":"monotone"},"encoding":{
   "x":{"field":"nm","type":"quantitative","axis":{"title":"λ (nm)","values":[250,300,350,400,450,500,550,600,650,700,750],"labelExpr":"datum.value % 100 === 0 ? datum.label : ''","tickSize":{"condition":{"test":"datum.value % 100 === 0","value":7},"value":4}}},
   "y":{"field":"A","type":"quantitative","axis":{"title":"A","values":[-0.25,0,0.25,0.5,0.75,1,1.25,1.5,1.75,2,2.25,2.5,2.75,3,3.25,3.5,3.75,4],"labelExpr":"abs(datum.value*2-round(datum.value*2))<0.001 ? format(datum.value,'.1f') : ''","tickSize":{"condition":{"test":"abs(datum.value*2-round(datum.value*2))<0.001","value":7},"value":4}}},
   "color":{"field":"s","type":"nominal","scale":{"domain":["T00","T25","T25 after 3 days","T25 after 7 days"],"range":["#4a4a4a","#f03c3c","#1f64e0","#22a35a"]},"legend":{"orient":"none","legendX":231,"legendY":160,"title":null,"symbolType":"M-4,0H4","symbolSize":116,"symbolStrokeWidth":2,"labelFontSize":19,"rowPadding":3.5,"labelOffset":19}}}},
  {"data":{"values":[{}]},"mark":{"type":"rule","color":"#b4b4f4","strokeWidth":1.5},"encoding":{"x":{"datum":385,"axis":{"title":"λ (nm)","values":[250,300,350,400,450,500,550,600,650,700,750],"labelExpr":"datum.value % 100 === 0 ? datum.label : ''","tickSize":{"condition":{"test":"datum.value % 100 === 0","value":7},"value":4}}}}},
  {"data":{"values":[{}]},"mark":{"type":"text","text":"385","fontSize":17,"color":"#2424e8","baseline":"middle"},"encoding":{"x":{"datum":385,"axis":{"title":"λ (nm)","values":[250,300,350,400,450,500,550,600,650,700,750],"labelExpr":"datum.value % 100 === 0 ? datum.label : ''","tickSize":{"condition":{"test":"datum.value % 100 === 0","value":7},"value":4}}},"y":{"datum":4.13,"axis":{"title":"A","values":[-0.25,0,0.25,0.5,0.75,1,1.25,1.5,1.75,2,2.25,2.5,2.75,3,3.25,3.5,3.75,4],"labelExpr":"abs(datum.value*2-round(datum.value*2))<0.001 ? format(datum.value,'.1f') : ''","tickSize":{"condition":{"test":"abs(datum.value*2-round(datum.value*2))<0.001","value":7},"value":4}}}}},
  {"data":{"values":[{}]},"mark":{"type":"text","text":"b)","fontSize":38,"font":"Open Sans","color":"#000","baseline":"middle"},"encoding":{"x":{"datum":150.8,"axis":{"title":"λ (nm)","values":[250,300,350,400,450,500,550,600,650,700,750],"labelExpr":"datum.value % 100 === 0 ? datum.label : ''","tickSize":{"condition":{"test":"datum.value % 100 === 0","value":7},"value":4}}},"y":{"datum":4.24,"axis":{"title":"A","values":[-0.25,0,0.25,0.5,0.75,1,1.25,1.5,1.75,2,2.25,2.5,2.75,3,3.25,3.5,3.75,4],"labelExpr":"abs(datum.value*2-round(datum.value*2))<0.001 ? format(datum.value,'.1f') : ''","tickSize":{"condition":{"test":"abs(datum.value*2-round(datum.value*2))<0.001","value":7},"value":4}}}}},
  {"data":{"values":[{}]},"mark":{"type":"text","text":"DIPA-O2","fontSize":27,"fontWeight":"bold","color":"#000","align":"left","baseline":"middle"},"encoding":{"x":{"datum":474.9,"axis":{"title":"λ (nm)","values":[250,300,350,400,450,500,550,600,650,700,750],"labelExpr":"datum.value % 100 === 0 ? datum.label : ''","tickSize":{"condition":{"test":"datum.value % 100 === 0","value":7},"value":4}}},"y":{"datum":3.827,"axis":{"title":"A","values":[-0.25,0,0.25,0.5,0.75,1,1.25,1.5,1.75,2,2.25,2.5,2.75,3,3.25,3.5,3.75,4],"labelExpr":"abs(datum.value*2-round(datum.value*2))<0.001 ? format(datum.value,'.1f') : ''","tickSize":{"condition":{"test":"abs(datum.value*2-round(datum.value*2))<0.001","value":7},"value":4}}}}},
  {"data":{"values":[{}]},"mark":{"type":"text","text":"stability at","fontSize":27,"color":"#000","align":"left","baseline":"middle"},"encoding":{"x":{"datum":600.6,"axis":{"title":"λ (nm)","values":[250,300,350,400,450,500,550,600,650,700,750],"labelExpr":"datum.value % 100 === 0 ? datum.label : ''","tickSize":{"condition":{"test":"datum.value % 100 === 0","value":7},"value":4}}},"y":{"datum":3.827,"axis":{"title":"A","values":[-0.25,0,0.25,0.5,0.75,1,1.25,1.5,1.75,2,2.25,2.5,2.75,3,3.25,3.5,3.75,4],"labelExpr":"abs(datum.value*2-round(datum.value*2))<0.001 ? format(datum.value,'.1f') : ''","tickSize":{"condition":{"test":"abs(datum.value*2-round(datum.value*2))<0.001","value":7},"value":4}}}}},
  {"data":{"values":[{}]},"mark":{"type":"text","text":"4 °C","fontSize":27,"fontWeight":"bold","color":"#1414f0","align":"left","baseline":"middle"},"encoding":{"x":{"datum":741.7,"axis":{"title":"λ (nm)","values":[250,300,350,400,450,500,550,600,650,700,750],"labelExpr":"datum.value % 100 === 0 ? datum.label : ''","tickSize":{"condition":{"test":"datum.value % 100 === 0","value":7},"value":4}}},"y":{"datum":3.827,"axis":{"title":"A","values":[-0.25,0,0.25,0.5,0.75,1,1.25,1.5,1.75,2,2.25,2.5,2.75,3,3.25,3.5,3.75,4],"labelExpr":"abs(datum.value*2-round(datum.value*2))<0.001 ? format(datum.value,'.1f') : ''","tickSize":{"condition":{"test":"abs(datum.value*2-round(datum.value*2))<0.001","value":7},"value":4}}}}},
  {"data":{"values":[{}]},"mark":{"type":"text","text":"1 mM + mTHPP 50 μM","fontSize":15.3,"fontStyle":"italic","color":"#222","align":"left","baseline":"middle"},"encoding":{"x":{"datum":516.8,"axis":{"title":"λ (nm)","values":[250,300,350,400,450,500,550,600,650,700,750],"labelExpr":"datum.value % 100 === 0 ? datum.label : ''","tickSize":{"condition":{"test":"datum.value % 100 === 0","value":7},"value":4}}},"y":{"datum":3.465,"axis":{"title":"A","values":[-0.25,0,0.25,0.5,0.75,1,1.25,1.5,1.75,2,2.25,2.5,2.75,3,3.25,3.5,3.75,4],"labelExpr":"abs(datum.value*2-round(datum.value*2))<0.001 ? format(datum.value,'.1f') : ''","tickSize":{"condition":{"test":"abs(datum.value*2-round(datum.value*2))<0.001","value":7},"value":4}}}}},
  {"data":{"values":[{}]},"mark":{"type":"text","text":"DCM:THF 9:1","fontSize":15.3,"fontStyle":"italic","color":"#222","align":"left","baseline":"middle"},"encoding":{"x":{"datum":516.8,"axis":{"title":"λ (nm)","values":[250,300,350,400,450,500,550,600,650,700,750],"labelExpr":"datum.value % 100 === 0 ? datum.label : ''","tickSize":{"condition":{"test":"datum.value % 100 === 0","value":7},"value":4}}},"y":{"datum":3.15,"axis":{"title":"A","values":[-0.25,0,0.25,0.5,0.75,1,1.25,1.5,1.75,2,2.25,2.5,2.75,3,3.25,3.5,3.75,4],"labelExpr":"abs(datum.value*2-round(datum.value*2))<0.001 ? format(datum.value,'.1f') : ''","tickSize":{"condition":{"test":"abs(datum.value*2-round(datum.value*2))<0.001","value":7},"value":4}}}}},
  {"data":{"values":[{}]},"mark":{"type":"text","text":"0.1 cm","fontSize":15.3,"fontStyle":"italic","color":"#222","align":"left","baseline":"middle"},"encoding":{"x":{"datum":516.8,"axis":{"title":"λ (nm)","values":[250,300,350,400,450,500,550,600,650,700,750],"labelExpr":"datum.value % 100 === 0 ? datum.label : ''","tickSize":{"condition":{"test":"datum.value % 100 === 0","value":7},"value":4}}},"y":{"datum":2.826,"axis":{"title":"A","values":[-0.25,0,0.25,0.5,0.75,1,1.25,1.5,1.75,2,2.25,2.5,2.75,3,3.25,3.5,3.75,4],"labelExpr":"abs(datum.value*2-round(datum.value*2))<0.001 ? format(datum.value,'.1f') : ''","tickSize":{"condition":{"test":"abs(datum.value*2-round(datum.value*2))<0.001","value":7},"value":4}}}}},
  {"data":{"values":[{}]},"mark":{"type":"text","text":"0.84477","fontSize":13.5,"color":"#555555","baseline":"middle"},"encoding":{"x":{"datum":348.1,"axis":{"title":"λ (nm)","values":[250,300,350,400,450,500,550,600,650,700,750],"labelExpr":"datum.value % 100 === 0 ? datum.label : ''","tickSize":{"condition":{"test":"datum.value % 100 === 0","value":7},"value":4}}},"y":{"datum":0.997,"axis":{"title":"A","values":[-0.25,0,0.25,0.5,0.75,1,1.25,1.5,1.75,2,2.25,2.5,2.75,3,3.25,3.5,3.75,4],"labelExpr":"abs(datum.value*2-round(datum.value*2))<0.001 ? format(datum.value,'.1f') : ''","tickSize":{"condition":{"test":"abs(datum.value*2-round(datum.value*2))<0.001","value":7},"value":4}}}}},
  {"data":{"values":[{}]},"mark":{"type":"text","text":"0.86652","fontSize":13.5,"color":"#2ea860","baseline":"middle"},"encoding":{"x":{"datum":342.9,"axis":{"title":"λ (nm)","values":[250,300,350,400,450,500,550,600,650,700,750],"labelExpr":"datum.value % 100 === 0 ? datum.label : ''","tickSize":{"condition":{"test":"datum.value % 100 === 0","value":7},"value":4}}},"y":{"datum":0.81,"axis":{"title":"A","values":[-0.25,0,0.25,0.5,0.75,1,1.25,1.5,1.75,2,2.25,2.5,2.75,3,3.25,3.5,3.75,4],"labelExpr":"abs(datum.value*2-round(datum.value*2))<0.001 ? format(datum.value,'.1f') : ''","tickSize":{"condition":{"test":"abs(datum.value*2-round(datum.value*2))<0.001","value":7},"value":4}}}}},
  {"data":{"values":[{}]},"mark":{"type":"text","text":"0.76872","fontSize":13.5,"color":"#2f6fe0","baseline":"middle"},"encoding":{"x":{"datum":338.2,"axis":{"title":"λ (nm)","values":[250,300,350,400,450,500,550,600,650,700,750],"labelExpr":"datum.value % 100 === 0 ? datum.label : ''","tickSize":{"condition":{"test":"datum.value % 100 === 0","value":7},"value":4}}},"y":{"datum":0.648,"axis":{"title":"A","values":[-0.25,0,0.25,0.5,0.75,1,1.25,1.5,1.75,2,2.25,2.5,2.75,3,3.25,3.5,3.75,4],"labelExpr":"abs(datum.value*2-round(datum.value*2))<0.001 ? format(datum.value,'.1f') : ''","tickSize":{"condition":{"test":"abs(datum.value*2-round(datum.value*2))<0.001","value":7},"value":4}}}}},
  {"data":{"values":[{}]},"mark":{"type":"text","text":"0.59741","fontSize":13.5,"color":"#f04848","baseline":"middle"},"encoding":{"x":{"datum":330.8,"axis":{"title":"λ (nm)","values":[250,300,350,400,450,500,550,600,650,700,750],"labelExpr":"datum.value % 100 === 0 ? datum.label : ''","tickSize":{"condition":{"test":"datum.value % 100 === 0","value":7},"value":4}}},"y":{"datum":0.473,"axis":{"title":"A","values":[-0.25,0,0.25,0.5,0.75,1,1.25,1.5,1.75,2,2.25,2.5,2.75,3,3.25,3.5,3.75,4],"labelExpr":"abs(datum.value*2-round(datum.value*2))<0.001 ? format(datum.value,'.1f') : ''","tickSize":{"condition":{"test":"abs(datum.value*2-round(datum.value*2))<0.001","value":7},"value":4}}}}}
 ]
},
{
 "width":453,"height":366,
 "layer":[
  {"data":{"name":"common"},"mark":{"type":"line","strokeWidth":1.6,"interpolate":"monotone"},"encoding":{
   "x":{"field":"nm","type":"quantitative","scale":{"domain":[250,750],"nice":false,"zero":false},"axis":{"title":"λ (nm)","values":[250,300,350,400,450,500,550,600,650,700,750],"labelExpr":"datum.value % 100 === 0 ? datum.label : ''","tickSize":{"condition":{"test":"datum.value % 100 === 0","value":7},"value":4}}},
   "y":{"field":"A","type":"quantitative","scale":{"domain":[-0.25,4],"nice":false,"zero":false},"axis":{"title":"A","values":[-0.25,0,0.25,0.5,0.75,1,1.25,1.5,1.75,2,2.25,2.5,2.75,3,3.25,3.5,3.75,4],"labelExpr":"abs(datum.value*2-round(datum.value*2))<0.001 ? format(datum.value,'.1f') : ''","tickSize":{"condition":{"test":"abs(datum.value*2-round(datum.value*2))<0.001","value":7},"value":4}}},
   "color":{"field":"s","type":"nominal","scale":{"domain":["T00","T25","T25 after 3 days","T25 after 7 days"],"range":["#4a4a4a","#f03c3c","#1f64e0","#22a35a"]},"legend":{"orient":"none","legendX":239,"legendY":163,"title":null,"symbolType":"M-4,0H4","symbolSize":116,"symbolStrokeWidth":2,"labelFontSize":19,"rowPadding":3.5,"labelOffset":19}}}},
  {"data":{"name":"pc"},"mark":{"type":"line","strokeWidth":1.6,"interpolate":"monotone"},"encoding":{
   "x":{"field":"nm","type":"quantitative","axis":{"title":"λ (nm)","values":[250,300,350,400,450,500,550,600,650,700,750],"labelExpr":"datum.value % 100 === 0 ? datum.label : ''","tickSize":{"condition":{"test":"datum.value % 100 === 0","value":7},"value":4}}},
   "y":{"field":"A","type":"quantitative","axis":{"title":"A","values":[-0.25,0,0.25,0.5,0.75,1,1.25,1.5,1.75,2,2.25,2.5,2.75,3,3.25,3.5,3.75,4],"labelExpr":"abs(datum.value*2-round(datum.value*2))<0.001 ? format(datum.value,'.1f') : ''","tickSize":{"condition":{"test":"abs(datum.value*2-round(datum.value*2))<0.001","value":7},"value":4}}},
   "color":{"field":"s","type":"nominal","scale":{"domain":["T00","T25","T25 after 3 days","T25 after 7 days"],"range":["#4a4a4a","#f03c3c","#1f64e0","#22a35a"]},"legend":{"orient":"none","legendX":239,"legendY":163,"title":null,"symbolType":"M-4,0H4","symbolSize":116,"symbolStrokeWidth":2,"labelFontSize":19,"rowPadding":3.5,"labelOffset":19}}}},
  {"data":{"values":[{}]},"mark":{"type":"rule","color":"#b4b4f4","strokeWidth":1.5},"encoding":{"x":{"datum":385,"axis":{"title":"λ (nm)","values":[250,300,350,400,450,500,550,600,650,700,750],"labelExpr":"datum.value % 100 === 0 ? datum.label : ''","tickSize":{"condition":{"test":"datum.value % 100 === 0","value":7},"value":4}}}}},
  {"data":{"values":[{}]},"mark":{"type":"text","text":"385","fontSize":17,"color":"#2424e8","baseline":"middle"},"encoding":{"x":{"datum":385,"axis":{"title":"λ (nm)","values":[250,300,350,400,450,500,550,600,650,700,750],"labelExpr":"datum.value % 100 === 0 ? datum.label : ''","tickSize":{"condition":{"test":"datum.value % 100 === 0","value":7},"value":4}}},"y":{"datum":4.15,"axis":{"title":"A","values":[-0.25,0,0.25,0.5,0.75,1,1.25,1.5,1.75,2,2.25,2.5,2.75,3,3.25,3.5,3.75,4],"labelExpr":"abs(datum.value*2-round(datum.value*2))<0.001 ? format(datum.value,'.1f') : ''","tickSize":{"condition":{"test":"abs(datum.value*2-round(datum.value*2))<0.001","value":7},"value":4}}}}},
  {"data":{"values":[{}]},"mark":{"type":"text","text":"c)","fontSize":38,"font":"Open Sans","color":"#000","baseline":"middle"},"encoding":{"x":{"datum":148.6,"axis":{"title":"λ (nm)","values":[250,300,350,400,450,500,550,600,650,700,750],"labelExpr":"datum.value % 100 === 0 ? datum.label : ''","tickSize":{"condition":{"test":"datum.value % 100 === 0","value":7},"value":4}}},"y":{"datum":4.26,"axis":{"title":"A","values":[-0.25,0,0.25,0.5,0.75,1,1.25,1.5,1.75,2,2.25,2.5,2.75,3,3.25,3.5,3.75,4],"labelExpr":"abs(datum.value*2-round(datum.value*2))<0.001 ? format(datum.value,'.1f') : ''","tickSize":{"condition":{"test":"abs(datum.value*2-round(datum.value*2))<0.001","value":7},"value":4}}}}},
  {"data":{"values":[{}]},"mark":{"type":"text","text":"DIPA-O2","fontSize":27,"fontWeight":"bold","color":"#000","align":"left","baseline":"middle"},"encoding":{"x":{"datum":468.3,"axis":{"title":"λ (nm)","values":[250,300,350,400,450,500,550,600,650,700,750],"labelExpr":"datum.value % 100 === 0 ? datum.label : ''","tickSize":{"condition":{"test":"datum.value % 100 === 0","value":7},"value":4}}},"y":{"datum":3.835,"axis":{"title":"A","values":[-0.25,0,0.25,0.5,0.75,1,1.25,1.5,1.75,2,2.25,2.5,2.75,3,3.25,3.5,3.75,4],"labelExpr":"abs(datum.value*2-round(datum.value*2))<0.001 ? format(datum.value,'.1f') : ''","tickSize":{"condition":{"test":"abs(datum.value*2-round(datum.value*2))<0.001","value":7},"value":4}}}}},
  {"data":{"values":[{}]},"mark":{"type":"text","text":"stability at","fontSize":27,"color":"#000","align":"left","baseline":"middle"},"encoding":{"x":{"datum":595.1,"axis":{"title":"λ (nm)","values":[250,300,350,400,450,500,550,600,650,700,750],"labelExpr":"datum.value % 100 === 0 ? datum.label : ''","tickSize":{"condition":{"test":"datum.value % 100 === 0","value":7},"value":4}}},"y":{"datum":3.835,"axis":{"title":"A","values":[-0.25,0,0.25,0.5,0.75,1,1.25,1.5,1.75,2,2.25,2.5,2.75,3,3.25,3.5,3.75,4],"labelExpr":"abs(datum.value*2-round(datum.value*2))<0.001 ? format(datum.value,'.1f') : ''","tickSize":{"condition":{"test":"abs(datum.value*2-round(datum.value*2))<0.001","value":7},"value":4}}}}},
  {"data":{"values":[{}]},"mark":{"type":"text","text":"-18 °C","fontSize":27,"fontWeight":"bold","color":"#1414f0","align":"left","baseline":"middle"},"encoding":{"x":{"datum":735.1,"axis":{"title":"λ (nm)","values":[250,300,350,400,450,500,550,600,650,700,750],"labelExpr":"datum.value % 100 === 0 ? datum.label : ''","tickSize":{"condition":{"test":"datum.value % 100 === 0","value":7},"value":4}}},"y":{"datum":3.835,"axis":{"title":"A","values":[-0.25,0,0.25,0.5,0.75,1,1.25,1.5,1.75,2,2.25,2.5,2.75,3,3.25,3.5,3.75,4],"labelExpr":"abs(datum.value*2-round(datum.value*2))<0.001 ? format(datum.value,'.1f') : ''","tickSize":{"condition":{"test":"abs(datum.value*2-round(datum.value*2))<0.001","value":7},"value":4}}}}},
  {"data":{"values":[{}]},"mark":{"type":"text","text":"1 mM + mTHPP 50 μM","fontSize":15.3,"fontStyle":"italic","color":"#222","align":"left","baseline":"middle"},"encoding":{"x":{"datum":492.6,"axis":{"title":"λ (nm)","values":[250,300,350,400,450,500,550,600,650,700,750],"labelExpr":"datum.value % 100 === 0 ? datum.label : ''","tickSize":{"condition":{"test":"datum.value % 100 === 0","value":7},"value":4}}},"y":{"datum":3.41,"axis":{"title":"A","values":[-0.25,0,0.25,0.5,0.75,1,1.25,1.5,1.75,2,2.25,2.5,2.75,3,3.25,3.5,3.75,4],"labelExpr":"abs(datum.value*2-round(datum.value*2))<0.001 ? format(datum.value,'.1f') : ''","tickSize":{"condition":{"test":"abs(datum.value*2-round(datum.value*2))<0.001","value":7},"value":4}}}}},
  {"data":{"values":[{}]},"mark":{"type":"text","text":"DCM:THF 9:1","fontSize":15.3,"fontStyle":"italic","color":"#222","align":"left","baseline":"middle"},"encoding":{"x":{"datum":492.6,"axis":{"title":"λ (nm)","values":[250,300,350,400,450,500,550,600,650,700,750],"labelExpr":"datum.value % 100 === 0 ? datum.label : ''","tickSize":{"condition":{"test":"datum.value % 100 === 0","value":7},"value":4}}},"y":{"datum":3.08,"axis":{"title":"A","values":[-0.25,0,0.25,0.5,0.75,1,1.25,1.5,1.75,2,2.25,2.5,2.75,3,3.25,3.5,3.75,4],"labelExpr":"abs(datum.value*2-round(datum.value*2))<0.001 ? format(datum.value,'.1f') : ''","tickSize":{"condition":{"test":"abs(datum.value*2-round(datum.value*2))<0.001","value":7},"value":4}}}}},
  {"data":{"values":[{}]},"mark":{"type":"text","text":"0.1 cm","fontSize":15.3,"fontStyle":"italic","color":"#222","align":"left","baseline":"middle"},"encoding":{"x":{"datum":492.6,"axis":{"title":"λ (nm)","values":[250,300,350,400,450,500,550,600,650,700,750],"labelExpr":"datum.value % 100 === 0 ? datum.label : ''","tickSize":{"condition":{"test":"datum.value % 100 === 0","value":7},"value":4}}},"y":{"datum":2.755,"axis":{"title":"A","values":[-0.25,0,0.25,0.5,0.75,1,1.25,1.5,1.75,2,2.25,2.5,2.75,3,3.25,3.5,3.75,4],"labelExpr":"abs(datum.value*2-round(datum.value*2))<0.001 ? format(datum.value,'.1f') : ''","tickSize":{"condition":{"test":"abs(datum.value*2-round(datum.value*2))<0.001","value":7},"value":4}}}}},
  {"data":{"values":[{}]},"mark":{"type":"text","text":"0.84477","fontSize":13.5,"color":"#555555","baseline":"middle"},"encoding":{"x":{"datum":354.7,"axis":{"title":"λ (nm)","values":[250,300,350,400,450,500,550,600,650,700,750],"labelExpr":"datum.value % 100 === 0 ? datum.label : ''","tickSize":{"condition":{"test":"datum.value % 100 === 0","value":7},"value":4}}},"y":{"datum":1.017,"axis":{"title":"A","values":[-0.25,0,0.25,0.5,0.75,1,1.25,1.5,1.75,2,2.25,2.5,2.75,3,3.25,3.5,3.75,4],"labelExpr":"abs(datum.value*2-round(datum.value*2))<0.001 ? format(datum.value,'.1f') : ''","tickSize":{"condition":{"test":"abs(datum.value*2-round(datum.value*2))<0.001","value":7},"value":4}}}}},
  {"data":{"values":[{}]},"mark":{"type":"text","text":"0.59741","fontSize":13.5,"color":"#f04848","baseline":"middle"},"encoding":{"x":{"datum":344.5,"axis":{"title":"λ (nm)","values":[250,300,350,400,450,500,550,600,650,700,750],"labelExpr":"datum.value % 100 === 0 ? datum.label : ''","tickSize":{"condition":{"test":"datum.value % 100 === 0","value":7},"value":4}}},"y":{"datum":0.827,"axis":{"title":"A","values":[-0.25,0,0.25,0.5,0.75,1,1.25,1.5,1.75,2,2.25,2.5,2.75,3,3.25,3.5,3.75,4],"labelExpr":"abs(datum.value*2-round(datum.value*2))<0.001 ? format(datum.value,'.1f') : ''","tickSize":{"condition":{"test":"abs(datum.value*2-round(datum.value*2))<0.001","value":7},"value":4}}}}},
  {"data":{"values":[{}]},"mark":{"type":"text","text":"0.63331","fontSize":13.5,"color":"#2f6fe0","baseline":"middle"},"encoding":{"x":{"datum":338.2,"axis":{"title":"λ (nm)","values":[250,300,350,400,450,500,550,600,650,700,750],"labelExpr":"datum.value % 100 === 0 ? datum.label : ''","tickSize":{"condition":{"test":"datum.value % 100 === 0","value":7},"value":4}}},"y":{"datum":0.641,"axis":{"title":"A","values":[-0.25,0,0.25,0.5,0.75,1,1.25,1.5,1.75,2,2.25,2.5,2.75,3,3.25,3.5,3.75,4],"labelExpr":"abs(datum.value*2-round(datum.value*2))<0.001 ? format(datum.value,'.1f') : ''","tickSize":{"condition":{"test":"abs(datum.value*2-round(datum.value*2))<0.001","value":7},"value":4}}}}},
  {"data":{"values":[{}]},"mark":{"type":"text","text":"0.65758","fontSize":13.5,"color":"#2ea860","baseline":"middle"},"encoding":{"x":{"datum":328.3,"axis":{"title":"λ (nm)","values":[250,300,350,400,450,500,550,600,650,700,750],"labelExpr":"datum.value % 100 === 0 ? datum.label : ''","tickSize":{"condition":{"test":"datum.value % 100 === 0","value":7},"value":4}}},"y":{"datum":0.488,"axis":{"title":"A","values":[-0.25,0,0.25,0.5,0.75,1,1.25,1.5,1.75,2,2.25,2.5,2.75,3,3.25,3.5,3.75,4],"labelExpr":"abs(datum.value*2-round(datum.value*2))<0.001 ? format(datum.value,'.1f') : ''","tickSize":{"condition":{"test":"abs(datum.value*2-round(datum.value*2))<0.001","value":7},"value":4}}}}}
 ]
},
{
 "width":452,"height":363,
 "layer":[
  {"data":{"name":"pd"},"mark":{"type":"line","strokeDash":[4,3],"strokeWidth":1.5},"encoding":{
   "x":{"field":"day","type":"quantitative","scale":{"domain":[-0.5,7.5],"nice":false,"zero":false},"axis":{"title":"Days","values":[-0.5,0,0.5,1,1.5,2,2.5,3,3.5,4,4.5,5,5.5,6,6.5,7,7.5],"labelExpr":"datum.value % 1 === 0 ? format(datum.value,'d') : ''","tickSize":{"condition":{"test":"datum.value % 1 === 0","value":7},"value":4}}},
   "y":{"field":"v","type":"quantitative","scale":{"domain":[0,110],"nice":false},"axis":{"title":"A₃₈₅ %","values":[0,10,20,30,40,50,60,70,80,90,100,110],"labelExpr":"datum.value % 20 === 0 ? datum.label : ''","tickSize":{"condition":{"test":"datum.value % 20 === 0","value":7},"value":4}}},
   "stroke":{"field":"k","type":"nominal","scale":{"domain":["20","4","-18"],"range":["#505050","#f23c3c","#1f6fe6"]},"legend":{"orient":"none","legendX":274.5,"legendY":217,"title":null,"symbolType":"M-4,0H4","symbolSize":240,"symbolDash":[4,3],"symbolStrokeWidth":1.5,"labelFontSize":25,"labelExpr":"''","rowPadding":7,"labelOffset":10}}}},
  {"data":{"name":"pd"},"mark":{"type":"point","filled":true,"size":190,"opacity":1},"encoding":{
   "x":{"field":"day","type":"quantitative","axis":{"title":"Days","values":[-0.5,0,0.5,1,1.5,2,2.5,3,3.5,4,4.5,5,5.5,6,6.5,7,7.5],"labelExpr":"datum.value % 1 === 0 ? format(datum.value,'d') : ''","tickSize":{"condition":{"test":"datum.value % 1 === 0","value":7},"value":4}}},
   "y":{"field":"v","type":"quantitative","axis":{"title":"A₃₈₅ %","values":[0,10,20,30,40,50,60,70,80,90,100,110],"labelExpr":"datum.value % 20 === 0 ? datum.label : ''","tickSize":{"condition":{"test":"datum.value % 20 === 0","value":7},"value":4}}},
   "fill":{"field":"T","type":"nominal","scale":{"domain":["20 °C","4 °C","-18 °C"],"range":["#505050","#f23c3c","#1f6fe6"]},"legend":{"orient":"none","legendX":275,"legendY":217,"title":null,"symbolSize":190,"labelFontSize":25,"rowPadding":7,"labelOffset":39}},
   "shape":{"field":"T","type":"nominal","scale":{"domain":["20 °C","4 °C","-18 °C"],"range":["square","circle","triangle-up"]},"legend":{"orient":"none","legendX":275,"legendY":217,"title":null,"symbolSize":190,"labelFontSize":25,"rowPadding":7,"labelOffset":39}}}},
  {"data":{"values":[{}]},"mark":{"type":"text","text":"d)","fontSize":38,"font":"Open Sans","color":"#000","baseline":"middle"},"encoding":{"x":{"datum":-2.07,"axis":{"title":"Days","values":[-0.5,0,0.5,1,1.5,2,2.5,3,3.5,4,4.5,5,5.5,6,6.5,7,7.5],"labelExpr":"datum.value % 1 === 0 ? format(datum.value,'d') : ''","tickSize":{"condition":{"test":"datum.value % 1 === 0","value":7},"value":4}}},"y":{"datum":116.3,"axis":{"title":"A₃₈₅ %","values":[0,10,20,30,40,50,60,70,80,90,100,110],"labelExpr":"datum.value % 20 === 0 ? datum.label : ''","tickSize":{"condition":{"test":"datum.value % 20 === 0","value":7},"value":4}}}}}
 ]
}
]
}
